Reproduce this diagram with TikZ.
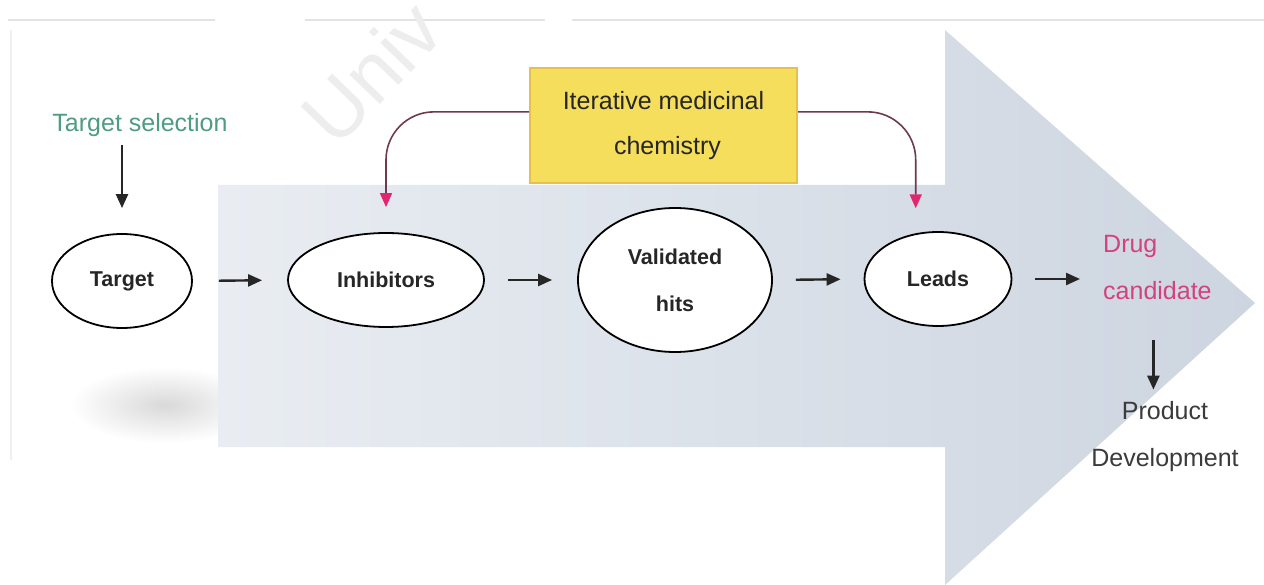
\documentclass[tikz,border=0pt]{standalone}
\usepackage{fontspec}
\setmainfont{Liberation Sans}
\usetikzlibrary{arrows.meta,shapes.geometric}
\definecolor{bgleft}{HTML}{E9EDF2}
\definecolor{bgright}{HTML}{CDD5E0}
\definecolor{tselgreen}{HTML}{4E9C84}
\definecolor{drugpink}{HTML}{D2427E}
\definecolor{connline}{HTML}{6E3A50}
\definecolor{conntip}{HTML}{E3246E}
\definecolor{boxfill}{HTML}{F5DE5C}
\definecolor{boxdraw}{HTML}{E6C04A}
\definecolor{proddark}{HTML}{3B3B3B}
\tikzset{
  stage/.style={ellipse, draw=black, line width=1.8pt, fill=white, inner sep=0pt,
    font=\bfseries\fontsize{21.5}{47}\selectfont, align=center, text=black!85},
  flow/.style={-{Triangle[length=14pt,width=12pt]}, line width=2.4pt, draw=black!85},
  loopconn/.style={-{Triangle[length=14pt,width=12pt,color=conntip]}, line width=1.6pt,
    draw=connline, rounded corners=48pt},
  plain/.style={inner sep=0pt, font=\fontsize{25}{47}\selectfont}
}
\begin{document}
\begin{tikzpicture}[x=1pt,y=-1pt]
\useasboundingbox (0,0) rectangle (1264,585);
\fill[white] (0,0) rectangle (1264,585);
% scan artefacts
\draw[gray!22, line width=1.5pt] (8,20) -- (215,20);
\draw[gray!22, line width=1.5pt] (305,20) -- (545,20);
\draw[gray!22, line width=1.5pt] (572,20) -- (1264,20);
\draw[gray!12, line width=1.5pt] (11,30) -- (11,460);
\begin{scope}
\clip (0,0) rectangle (1264,585);
\node[rotate=46, text=gray!14, font=\fontsize{80}{80}\selectfont, anchor=base west, inner sep=0pt] (wm) at (336,150) {Univ};
\end{scope}
% soft shadow
\shade[inner color=gray!30, outer color=white] (165,405) ellipse (95 and 38);
% big background arrow
\shade[left color=bgleft, right color=bgright]
  (218,185) -- (945,185) -- (945,30) -- (1255,303) -- (945,585) -- (945,447) -- (218,447) -- cycle;
% iterative box
\node[draw=boxdraw, fill=boxfill, line width=2pt, minimum width=267pt, minimum height=115pt,
  inner sep=0pt, align=center, font=\fontsize{25}{45}\selectfont, text=black!85]
  (box) at (663.5,126) {Iterative medicinal\\\hspace*{8pt}chemistry};
% stages
\node[plain, text=tselgreen] (tsel) at (140,125) {Target selection};
\node[stage, minimum width=140pt, minimum height=94pt] (target) at (122,281) {Target};
\node[stage, minimum width=196pt, minimum height=94pt] (inh) at (386,280) {Inhibitors};
\node[stage, minimum width=194pt, minimum height=144pt] (val) at (675,280) {Validated\\hits};
\node[stage, minimum width=147pt, minimum height=94pt] (leads) at (938,279) {Leads};
\node[plain, text=drugpink, anchor=west, align=left] (drug) at (1103,268) {Drug\\candidate};
\node[plain, text=proddark, align=center] (prod) at (1165,437) {Product\\Development};
% flow arrows
\draw[flow, shorten <=8pt, shorten >=25pt] ([xshift=-18pt]tsel.south) -- (target.north);
\draw[flow, shorten <=26pt, shorten >=25pt] (target.east) -- (inh.west);
\draw[flow, shorten <=23pt, shorten >=25pt] (inh.east) -- (val.west);
\draw[flow, shorten <=23pt, shorten >=23pt] (val.east) -- (leads.west);
\draw[flow, shorten <=23pt, shorten >=23pt] (leads.east) -- (leads.east -| drug.west);
\draw[flow, shorten <=40pt, shorten >=12pt] ([xshift=-4pt]drug.south) -- ([xshift=-4pt]drug.south |- prod.north);
% iterative loops
\draw[loopconn, shorten >=25pt] (box.174) -| (inh.north);
\draw[loopconn, shorten >=25pt] (box.6) -| (leads.116);
\end{tikzpicture}
\end{document}
